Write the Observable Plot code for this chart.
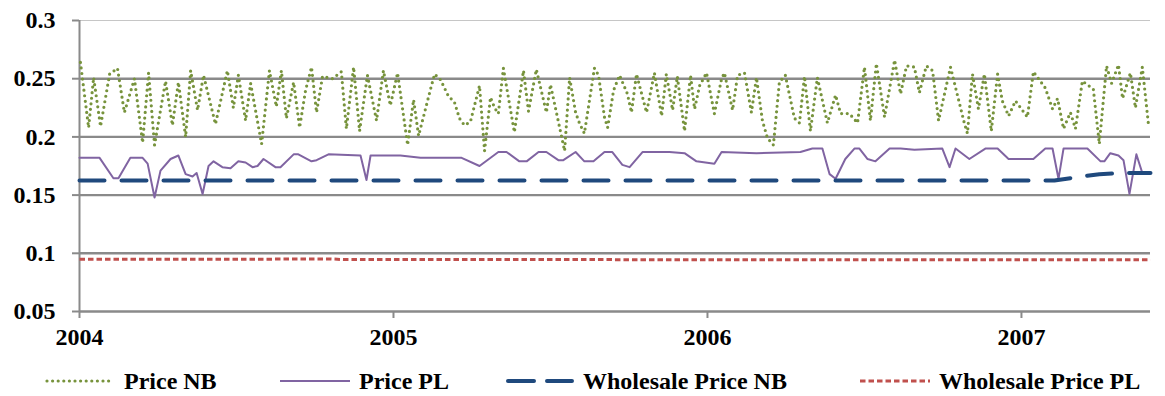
<!DOCTYPE html>
<html>
<head>
<meta charset="utf-8">
<script src="https://cdn.jsdelivr.net/npm/d3@7"></script>
<script src="https://cdn.jsdelivr.net/npm/@observablehq/plot@0.6"></script>
<style>
  html, body { margin: 0; padding: 0; background: #fff; }
  #wrap { position: relative; width: 1165px; height: 396px; font-family: "Liberation Serif", "Times New Roman", serif; font-weight: bold; }
  #legend { position: absolute; left: 0; top: 366px; width: 1165px; height: 30px; }
  .item { position: absolute; top: 0; height: 30px; display: flex; align-items: center; font-size: 24px; color: #000; white-space: nowrap; }
  .item svg { margin-right: 9px; }
</style>
</head>
<body>
<div id="wrap">
  <div id="chart"></div>
  <div id="legend"></div>
</div>
<script>
// ---- Data (decimal years, $ values) ----
const xTicks = [2004, 2005, 2006, 2007];
const yTicks = [0.05, 0.1, 0.15, 0.2, 0.25, 0.3];
const seriesNames = ["Price NB", "Price PL", "Wholesale Price NB", "Wholesale Price PL"];

const priceNBTime = [2004.003,2004.029,2004.045,2004.067,2004.096,2004.121,2004.143,2004.175,2004.201,2004.220,2004.239,2004.274,2004.296,2004.315,2004.338,2004.354,2004.376,2004.395,2004.433,2004.471,2004.490,2004.506,2004.529,2004.545,2004.580,2004.605,2004.627,2004.643,2004.659,2004.682,2004.701,2004.720,2004.739,2004.755,2004.774,2004.806,2004.834,2004.850,2004.873,2004.892,2004.917,2004.946,2004.968,2004.990,2005.013,2005.045,2005.064,2005.080,2005.118,2005.131,2005.150,2005.175,2005.194,2005.210,2005.226,2005.245,2005.274,2005.290,2005.309,2005.322,2005.334,2005.350,2005.385,2005.414,2005.430,2005.455,2005.487,2005.500,2005.545,2005.561,2005.580,2005.592,2005.608,2005.640,2005.653,2005.672,2005.682,2005.701,2005.720,2005.745,2005.758,2005.774,2005.806,2005.831,2005.854,2005.869,2005.889,2005.904,2005.927,2005.946,2005.959,2005.975,2005.997,2006.022,2006.045,2006.054,2006.080,2006.096,2006.118,2006.140,2006.156,2006.175,2006.191,2006.210,2006.229,2006.248,2006.277,2006.293,2006.309,2006.328,2006.350,2006.382,2006.408,2006.424,2006.452,2006.478,2006.500,2006.519,2006.538,2006.564,2006.596,2006.615,2006.634,2006.659,2006.675,2006.697,2006.717,2006.736,2006.774,2006.818,2006.828,2006.844,2006.863,2006.882,2006.904,2006.924,2006.939,2006.959,2006.981,2007.019,2007.038,2007.076,2007.099,2007.115,2007.134,2007.156,2007.172,2007.194,2007.229,2007.248,2007.271,2007.287,2007.309,2007.322,2007.347,2007.363,2007.385,2007.404];
const priceNB = [0.264,0.208,0.251,0.209,0.254,0.259,0.221,0.250,0.195,0.255,0.193,0.248,0.210,0.247,0.200,0.257,0.223,0.253,0.211,0.257,0.225,0.253,0.214,0.246,0.194,0.257,0.226,0.257,0.216,0.247,0.208,0.240,0.260,0.221,0.252,0.250,0.256,0.207,0.260,0.205,0.253,0.214,0.257,0.227,0.255,0.193,0.232,0.201,0.241,0.254,0.249,0.235,0.230,0.216,0.210,0.213,0.244,0.188,0.234,0.225,0.220,0.259,0.204,0.257,0.222,0.258,0.221,0.245,0.188,0.251,0.221,0.212,0.203,0.259,0.253,0.217,0.208,0.240,0.253,0.237,0.221,0.254,0.221,0.255,0.218,0.254,0.223,0.252,0.205,0.253,0.224,0.244,0.255,0.220,0.250,0.255,0.223,0.253,0.255,0.221,0.251,0.214,0.199,0.193,0.247,0.253,0.216,0.212,0.252,0.205,0.251,0.212,0.236,0.220,0.220,0.212,0.260,0.214,0.263,0.217,0.266,0.237,0.261,0.260,0.238,0.261,0.257,0.214,0.260,0.212,0.203,0.254,0.224,0.254,0.205,0.254,0.231,0.218,0.231,0.217,0.256,0.242,0.224,0.233,0.207,0.221,0.207,0.248,0.241,0.194,0.261,0.246,0.262,0.233,0.255,0.225,0.260,0.212];

const pricePLTime = [2004.000,2004.064,2004.108,2004.124,2004.162,2004.201,2004.217,2004.239,2004.258,2004.290,2004.315,2004.338,2004.360,2004.373,2004.392,2004.411,2004.427,2004.455,2004.481,2004.506,2004.529,2004.551,2004.567,2004.586,2004.624,2004.640,2004.682,2004.697,2004.739,2004.755,2004.793,2004.895,2004.914,2004.927,2005.022,2005.086,2005.217,2005.274,2005.334,2005.360,2005.401,2005.424,2005.462,2005.487,2005.525,2005.541,2005.580,2005.608,2005.637,2005.672,2005.697,2005.729,2005.752,2005.793,2005.879,2005.927,2005.965,2006.022,2006.045,2006.156,2006.296,2006.334,2006.366,2006.389,2006.408,2006.439,2006.468,2006.484,2006.510,2006.535,2006.580,2006.615,2006.659,2006.748,2006.771,2006.790,2006.834,2006.885,2006.924,2006.959,2007.038,2007.076,2007.099,2007.118,2007.134,2007.210,2007.252,2007.264,2007.283,2007.309,2007.325,2007.344,2007.366,2007.385];
const pricePL = [0.182,0.182,0.1645,0.1645,0.182,0.182,0.177,0.148,0.171,0.181,0.184,0.168,0.166,0.169,0.151,0.175,0.179,0.174,0.173,0.179,0.178,0.174,0.175,0.181,0.174,0.174,0.185,0.185,0.179,0.180,0.185,0.184,0.163,0.184,0.184,0.182,0.182,0.175,0.187,0.187,0.179,0.179,0.187,0.187,0.180,0.180,0.187,0.179,0.179,0.187,0.187,0.176,0.174,0.187,0.187,0.186,0.179,0.177,0.187,0.186,0.187,0.190,0.190,0.168,0.164,0.181,0.190,0.190,0.181,0.179,0.190,0.190,0.189,0.190,0.174,0.190,0.181,0.190,0.190,0.181,0.181,0.190,0.190,0.164,0.190,0.190,0.179,0.179,0.186,0.184,0.180,0.151,0.185,0.169];

const wholesaleNBTime = [2004.000,2007.105,2007.191,2007.248,2007.325,2007.411];
const wholesaleNB = [0.1625,0.1625,0.166,0.168,0.169,0.169];

const wholesalePLTime = [2004.000,2004.600,2004.640,2004.800,2004.840,2007.411];
const wholesalePL = [0.0948,0.0948,0.0952,0.0952,0.0946,0.0945];

// ---- Build tables ----
const rowsNB = priceNBTime.map((t, i) => ({t, v: priceNB[i]}));
const rowsPL = pricePLTime.map((t, i) => ({t, v: pricePL[i]}));
const rowsWNB = wholesaleNBTime.map((t, i) => ({t, v: wholesaleNB[i]}));
const rowsWPL = wholesalePLTime.map((t, i) => ({t, v: wholesalePL[i]}));

const colors = {green: "#77933C", purple: "#8064A2", blue: "#1F497D", red: "#C0504D", grid: "#8a8a8a"};
const styles = [
  {stroke: colors.green, strokeWidth: 3.2, strokeDasharray: "0,5.6", strokeLinecap: "round"},
  {stroke: colors.purple, strokeWidth: 2},
  {stroke: colors.blue, strokeWidth: 4, strokeDasharray: "25,17", strokeLinecap: "round"},
  {stroke: colors.red, strokeWidth: 3, strokeDasharray: "5.5,3", strokeLinecap: "butt"}
];
const legendDash = ["0,5.6", null, "26,13", "5.5,3"];

const chart = Plot.plot({
  width: 1165,
  height: 352,
  marginLeft: 79,
  marginRight: 15,
  marginTop: 20,
  marginBottom: 41,
  style: {fontFamily: "'Liberation Serif', 'Times New Roman', serif", background: "#fff", color: "#000"},
  x: {type: "linear", domain: [2004, 2007.411], axis: null},
  y: {type: "linear", domain: [0.05, 0.3], axis: null},
  marks: [
    Plot.ruleY([0.3], {stroke: "#c6c6c6", strokeWidth: 1}),
    Plot.ruleY([0.1, 0.15, 0.2, 0.25], {stroke: colors.grid, strokeWidth: 2.4}),
    Plot.ruleY([0.05], {stroke: colors.grid, strokeWidth: 2.4}),
    Plot.ruleX([2004], {stroke: colors.grid, strokeWidth: 2}),
    Plot.axisY(yTicks, {anchor: "left", tickSize: 7, tickPadding: 17, tickFormat: d => String(d), stroke: colors.grid, strokeWidth: 2, fill: "#000", fontSize: 24, fontWeight: "bold", label: null}),
    Plot.axisX(xTicks, {anchor: "bottom", tickSize: 7, tickPadding: 9, tickFormat: d => String(d), stroke: colors.grid, strokeWidth: 2, fill: "#000", fontSize: 24, fontWeight: "bold", label: null}),
    Plot.line(rowsNB, {x: "t", y: "v", ...styles[0]}),
    Plot.line(rowsPL, {x: "t", y: "v", ...styles[1]}),
    Plot.line(rowsWNB, {x: "t", y: "v", ...styles[2]}),
    Plot.line(rowsWPL, {x: "t", y: "v", ...styles[3]})
  ]
});
document.getElementById("chart").appendChild(chart);

// ---- Legend ----
const legendPos = [
  {left: 45, w: 70},
  {left: 280, w: 70},
  {left: 506, w: 68},
  {left: 860, w: 70}
];
const legend = document.getElementById("legend");
seriesNames.forEach((name, i) => {
  const s = styles[i];
  const item = document.createElement("div");
  item.className = "item";
  item.style.left = legendPos[i].left + "px";
  const w = legendPos[i].w;
  const dash = legendDash[i] ? `stroke-dasharray="${legendDash[i]}"` : "";
  const cap = s.strokeLinecap ? `stroke-linecap="${s.strokeLinecap}"` : "";
  const x1 = s.strokeLinecap === "round" ? 2 : 0;
  const x2 = s.strokeLinecap === "round" ? w - 2 : w;
  item.innerHTML = `<svg width="${w}" height="10"><line x1="${x1}" y1="5" x2="${x2}" y2="5" stroke="${s.stroke}" stroke-width="${s.strokeWidth}" ${dash} ${cap}/></svg><span>${name}</span>`;
  legend.appendChild(item);
});
</script>
</body>
</html>
